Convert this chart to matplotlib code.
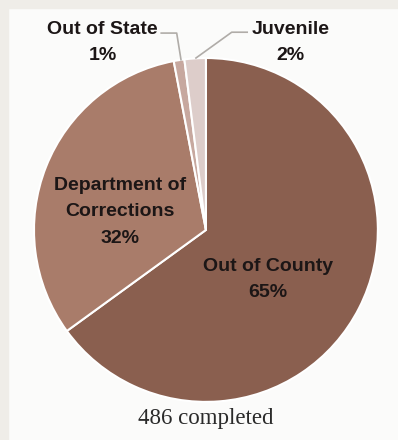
import matplotlib.pyplot as plt

# data
categories = ['Out of County', 'Department of\nCorrections', 'Out of State', 'Juvenile']
shares = [65, 32, 1, 2]
colours = ['#8a5f4f', '#a97c6a', '#c7a89f', '#ddcdca']
total_label = '486 completed'

fig = plt.figure(figsize=(3.98, 4.40), dpi=100)
fig.patch.set_facecolor('#fbfbfa')
# thin beige frame on top/left like the screenshot
fig.add_artist(plt.Rectangle((0, 0), 0.02, 1, transform=fig.transFigure,
                             color='#efede8', zorder=0))
fig.add_artist(plt.Rectangle((0, 0.982), 1, 0.018, transform=fig.transFigure,
                             color='#efede8', zorder=0))

ax = fig.add_axes([0.0854, 0.0864, 0.864, 0.782])
ax.pie(shares, colors=colours, startangle=90, counterclock=False,
       wedgeprops=dict(edgecolor='white', linewidth=1.5))
ax.set_xlim(-1, 1)
ax.set_ylim(-1, 1)
ax.set_aspect('equal')
ax.axis('off')

lbl = dict(ha='center', va='center', fontsize=14, fontweight='bold',
           family=['Liberation Sans', 'DejaVu Sans'], color='#1c1616',
           linespacing=1.72)

ax.text(0.36, -0.29, f'{categories[0]}\n{shares[0]}%', **lbl)
ax.text(-0.50, 0.105, f'{categories[1]}\n{shares[1]}%', **lbl)
ax.text(-0.60, 1.09, f'{categories[2]}\n{shares[2]}%', clip_on=False, **lbl)
ax.text(0.49, 1.09, f'{categories[3]}\n{shares[3]}%', clip_on=False, **lbl)

# leader lines
ax.plot([-0.26, -0.17, -0.145], [1.145, 1.145, 0.99], color='#b0aca8',
        lw=1.2, clip_on=False)
ax.plot([0.24, 0.15, -0.058], [1.15, 1.15, 1.0], color='#b0aca8',
        lw=1.2, clip_on=False)

fig.text(0.5176, 1 - 418 / 440, total_label, ha='center', va='center',
         fontsize=16.5, family=['Liberation Serif', 'DejaVu Serif'],
         color='#2a2a2a')

fig.savefig('out.png', dpi=100, facecolor=fig.get_facecolor())
